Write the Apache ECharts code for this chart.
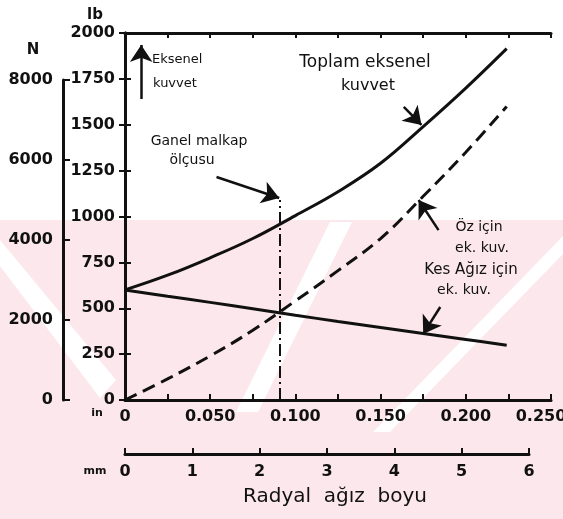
<!DOCTYPE html>
<html><head><meta charset="utf-8">
<script src="https://cdn.jsdelivr.net/npm/echarts@6/dist/echarts.min.js"></script>
<style>html,body{margin:0;padding:0;background:#fff}#c{width:563px;height:519px}</style>
</head><body><div id="c"></div>
<script>
// Radial cutting-edge length (in)
const radialIn = [0, 0.025, 0.05, 0.075, 0.1, 0.125, 0.15, 0.175, 0.2, 0.224];
// Total axial force (lb)
const totalForce = [600, 680, 775, 880, 1005, 1135, 1290, 1490, 1700, 1915];
// Axial force from the chisel edge / core (lb)
const coreForce = [0, 115, 240, 380, 540, 705, 880, 1110, 1350, 1600];
// Axial force from the cutting lips (lb)
const lipForce = [600, 565, 532, 497, 462, 428, 395, 362, 330, 298];
// General drill size marker (in) and its top (lb)
const drillSizeIn = 0.091;
const drillLineTop = 1090;
// Tick labels
const inTickLabels = ['0', '0.050', '0.100', '0.150', '0.200', '0.250'];
const mmTickLabels = ['0', '1', '2', '3', '4', '5', '6'];
// Annotation arrows [tail, head] in (in, lb)
const arrows = [
  [[0.0095, 1640], [0.0095, 1935]],
  [[0.1636, 1597], [0.1740, 1499]],
  [[0.0537, 1215], [0.0905, 1101]],
  [[0.1840, 926], [0.1723, 1090]],
  [[0.1850, 507], [0.1750, 360]]
];

const FONT = 'DejaVu Sans';
const INK = '#111';

const pts = ys => radialIn.map((x, i) => [x, ys[i]]);

const chart = echarts.init(document.getElementById('c'), null, { renderer: 'canvas' });

// faint background watermark bands
const pink = '#fce8ec';
const wm = [
  { type: 'rect', shape: { x: 0, y: 220, width: 563, height: 299 }, style: { fill: pink } },
  { type: 'polygon', shape: { points: [[0, 240], [0, 266], [100, 398], [116, 380]] }, style: { fill: '#fff' } },
  { type: 'polygon', shape: { points: [[236, 412], [258, 412], [352, 222], [330, 222]] }, style: { fill: '#fff' } },
  { type: 'polygon', shape: { points: [[373, 432], [390, 432], [563, 254], [563, 236]] }, style: { fill: '#fff' } }
].map(g => Object.assign(g, { silent: true, z: -10 }));

const txt = (x, y, t, size, align, weight) => ({
  type: 'text', x, y, silent: true, z: 50,
  style: { text: t, font: (weight ? weight + ' ' : '') + size + 'px "' + FONT + '"', fill: INK, align: align || 'center', verticalAlign: 'middle' }
});

const tickFont = { color: INK, fontFamily: FONT, fontSize: 16, fontWeight: 'bold' };
const noBounds = { outerBoundsMode: 'none', containLabel: false };

// the last inch label is nudged left so it stays on the page
const inLabel = v => {
  const i = Math.round(v / 0.05);
  if (Math.abs(v - i * 0.05) > 1e-6) return '';
  return i === inTickLabels.length - 1 ? '{last|' + inTickLabels[i] + '}' : inTickLabels[i];
};

chart.setOption({
  animation: false,
  backgroundColor: '#fff',
  grid: [
    Object.assign({ left: 125, top: 33, width: 426, height: 367 }, noBounds),
    Object.assign({ left: 63, top: 80, width: 1, height: 320 }, noBounds),
    Object.assign({ left: 125, top: 453, width: 404, height: 1 }, noBounds)
  ],
  xAxis: [
    {
      gridIndex: 0, type: 'value', min: 0, max: 0.25, interval: 0.025, position: 'bottom',
      axisLine: { lineStyle: { color: INK, width: 3 } },
      axisTick: { inside: true, length: 6, lineStyle: { color: INK, width: 2 } },
      axisLabel: Object.assign({ interval: 1, margin: 9, formatter: inLabel,
        rich: { last: { color: INK, fontFamily: FONT, fontSize: 16, fontWeight: 'bold', padding: [0, 20, 0, 0] } } }, tickFont),
      splitLine: { show: false }
    },
    {
      gridIndex: 0, type: 'value', min: 0, max: 0.25, interval: 0.025, position: 'top',
      axisLine: { onZero: false, lineStyle: { color: INK, width: 3 } },
      axisTick: { inside: true, length: 5, lineStyle: { color: INK, width: 2 } },
      axisLabel: { show: false }, splitLine: { show: false }
    },
    { gridIndex: 1, type: 'value', show: false },
    {
      gridIndex: 2, type: 'value', min: 0, max: 6, interval: 1, position: 'bottom',
      axisLine: { onZero: false, lineStyle: { color: INK, width: 3 } },
      axisTick: { inside: true, length: 6, lineStyle: { color: INK, width: 2 } },
      axisLabel: Object.assign({ margin: 10, formatter: v => mmTickLabels[Math.round(v)] }, tickFont),
      splitLine: { show: false }
    }
  ],
  yAxis: [
    {
      gridIndex: 0, type: 'value', min: 0, max: 2000, interval: 250, position: 'left',
      axisLine: { show: true, lineStyle: { color: INK, width: 3 } },
      axisTick: { show: true, inside: true, length: 6, lineStyle: { color: INK, width: 2 } },
      axisLabel: Object.assign({ margin: 10, formatter: v => String(v) }, tickFont),
      splitLine: { show: false }
    },
    {
      gridIndex: 0, type: 'value', min: 0, max: 2000, interval: 250, position: 'right',
      axisLine: { show: true, lineStyle: { color: INK, width: 3 } },
      axisTick: { show: true, inside: true, length: 6, lineStyle: { color: INK, width: 2 } },
      axisLabel: { show: false }, splitLine: { show: false }
    },
    {
      gridIndex: 1, type: 'value', min: 0, max: 8000, interval: 2000, position: 'left',
      axisLine: { show: true, lineStyle: { color: INK, width: 3 } },
      axisTick: { show: true, inside: true, length: 7, lineStyle: { color: INK, width: 2 } },
      axisLabel: Object.assign({ margin: 10, formatter: v => String(v) }, tickFont),
      splitLine: { show: false }
    },
    { gridIndex: 2, type: 'value', show: false }
  ],
  series: [
    { type: 'line', xAxisIndex: 0, yAxisIndex: 0, data: pts(totalForce), smooth: 0.4, symbol: 'none',
      lineStyle: { color: INK, width: 3 }, z: 5 },
    { type: 'line', xAxisIndex: 0, yAxisIndex: 0, data: pts(coreForce), smooth: 0.4, symbol: 'none',
      lineStyle: { color: INK, width: 3, type: [13, 7] }, z: 5 },
    { type: 'line', xAxisIndex: 0, yAxisIndex: 0, data: pts(lipForce), smooth: 0.4, symbol: 'none',
      lineStyle: { color: INK, width: 3 }, z: 5 },
    { type: 'lines', coordinateSystem: 'cartesian2d', xAxisIndex: 0, yAxisIndex: 0,
      data: [{ coords: [[drillSizeIn, 0], [drillSizeIn, drillLineTop]] }],
      symbol: 'none', lineStyle: { color: INK, width: 2, type: [12, 4, 2, 4], opacity: 1 }, z: 4 },
    { type: 'lines', coordinateSystem: 'cartesian2d', xAxisIndex: 0, yAxisIndex: 0,
      data: arrows.map(a => ({ coords: a })),
      symbol: ['none', 'arrow'], symbolSize: [11, 17],
      lineStyle: { color: INK, width: 2.5, opacity: 1 }, itemStyle: { color: INK }, z: 6 }
  ],
  graphic: wm.concat([
    txt(95, 15, 'lb', 15, 'center', 'bold'),
    txt(33, 50, 'N', 15, 'center', 'bold'),
    txt(97, 413, 'in', 11, 'center', 'bold'),
    txt(95, 471, 'mm', 11, 'center', 'bold'),
    txt(335, 497, 'Radyal  ağız  boyu', 20, 'center'),
    txt(152, 60, 'Eksenel', 13, 'left'),
    txt(153, 84, 'kuvvet', 13, 'left'),
    txt(365, 63, 'Toplam eksenel', 17, 'center'),
    txt(368, 86, 'kuvvet', 16, 'center'),
    txt(199, 141, 'Ganel malkap', 14, 'center'),
    txt(192, 160, 'ölçusu', 14, 'center'),
    txt(479, 227, 'Öz için', 14, 'center'),
    txt(482, 248, 'ek. kuv.', 14, 'center'),
    txt(471, 270, 'Kes Ağız için', 15, 'center'),
    txt(464, 290, 'ek. kuv.', 14, 'center')
  ])
});
</script>
</body></html>
